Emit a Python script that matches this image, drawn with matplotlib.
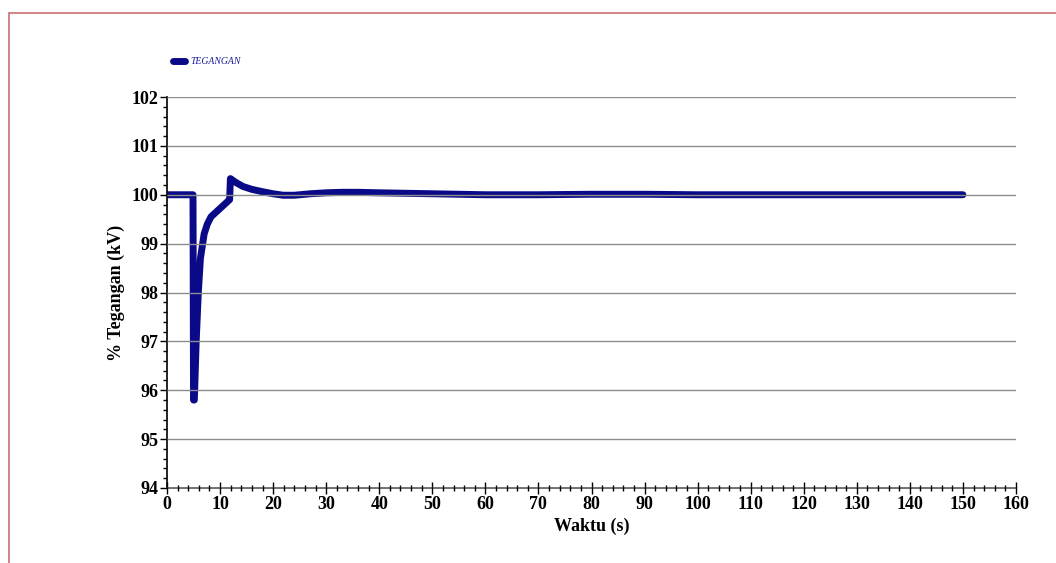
import matplotlib.pyplot as plt
from matplotlib.patches import Rectangle
from matplotlib.ticker import MultipleLocator

# data
waktu = [0, 4.9, 5.0, 5.15, 5.5, 5.9, 6.3, 7.0, 7.6, 8.3, 9.6, 10.8, 11.8,
         11.95, 13.0, 14.3, 16.0, 18.1, 20.0, 21.9, 24.0, 27.0, 30.0, 33.0,
         36.0, 40.0, 45.0, 50.0, 55.0, 60.0, 70.0, 80.0, 90.0, 100.0, 110.0,
         120.0, 130.0, 140.0, 150.0]
tegangan = [100.0, 100.0, 95.8, 95.8, 97.0, 98.0, 98.7, 99.2, 99.4, 99.55,
            99.68, 99.8, 99.9, 100.33, 100.25, 100.17, 100.11, 100.06, 100.02,
            99.99, 99.99, 100.02, 100.04, 100.05, 100.05, 100.04, 100.03,
            100.02, 100.01, 100.0, 100.0, 100.01, 100.01, 100.0, 100.0, 100.0,
            100.0, 100.0, 100.0]

plt.rcParams['font.family'] = ['Liberation Serif', 'DejaVu Serif']

fig = plt.figure(figsize=(10.56, 5.63), dpi=100)
ax = fig.add_axes([167/1056, 1 - 488/563, 849/1056, 391/563])

# thin reddish frame around the page
fig.patches.append(Rectangle((9/1056, -0.1), 1.2, 1 - 13/563 + 0.1,
                             transform=fig.transFigure, fill=False,
                             edgecolor='#c87070', linewidth=1.2))

ax.plot(waktu, tegangan, color='#0a0a88', linewidth=5.0,
        solid_capstyle='round', solid_joinstyle='round', label='TEGANGAN', zorder=2)

ax.set_xlim(0, 160)
ax.set_ylim(94, 102)
ax.xaxis.set_major_locator(MultipleLocator(10))
ax.xaxis.set_minor_locator(MultipleLocator(2))
ax.yaxis.set_major_locator(MultipleLocator(1))
ax.yaxis.set_minor_locator(MultipleLocator(0.2))

# grid is drawn over the curve in the original
ax.grid(axis='y', which='major', color='#8c8c8c', linewidth=1.0, zorder=3)
ax.set_axisbelow(False)
for g in ax.get_ygridlines():
    g.set_zorder(3)

for s in ['top', 'right']:
    ax.spines[s].set_visible(False)
ax.spines['left'].set_linewidth(1.2)
ax.spines['bottom'].set_color('#555555')
ax.spines['bottom'].set_linewidth(1.2)

ax.tick_params(axis='x', which='major', direction='inout', length=8, width=1, pad=2)
ax.tick_params(axis='x', which='minor', direction='inout', length=5, width=1)
ax.tick_params(axis='y', which='major', direction='out', length=5, width=1, pad=1)
ax.tick_params(axis='y', which='minor', direction='out', length=3, width=1)
for lbl in ax.get_xticklabels() + ax.get_yticklabels():
    lbl.set_fontweight('bold')
    lbl.set_fontsize(13)

ax.set_xlabel('Waktu (s)', fontsize=13, fontweight='bold')
ax.set_ylabel('% Tegangan (kV)', fontsize=13, fontweight='bold')
ax.xaxis.set_label_coords(0.5, -0.075)
ax.yaxis.set_label_coords(-0.049, 0.5)

leg = ax.legend(loc='center left', bbox_to_anchor=(164/1056, 1 - 62/563),
                bbox_transform=fig.transFigure, frameon=False,
                handlelength=1.3, handletextpad=0.5,
                prop={'family': 'Liberation Serif', 'style': 'italic', 'size': 7})
for t in leg.get_texts():
    t.set_color('#1a1a99')

fig.savefig('out.png', dpi=100)
